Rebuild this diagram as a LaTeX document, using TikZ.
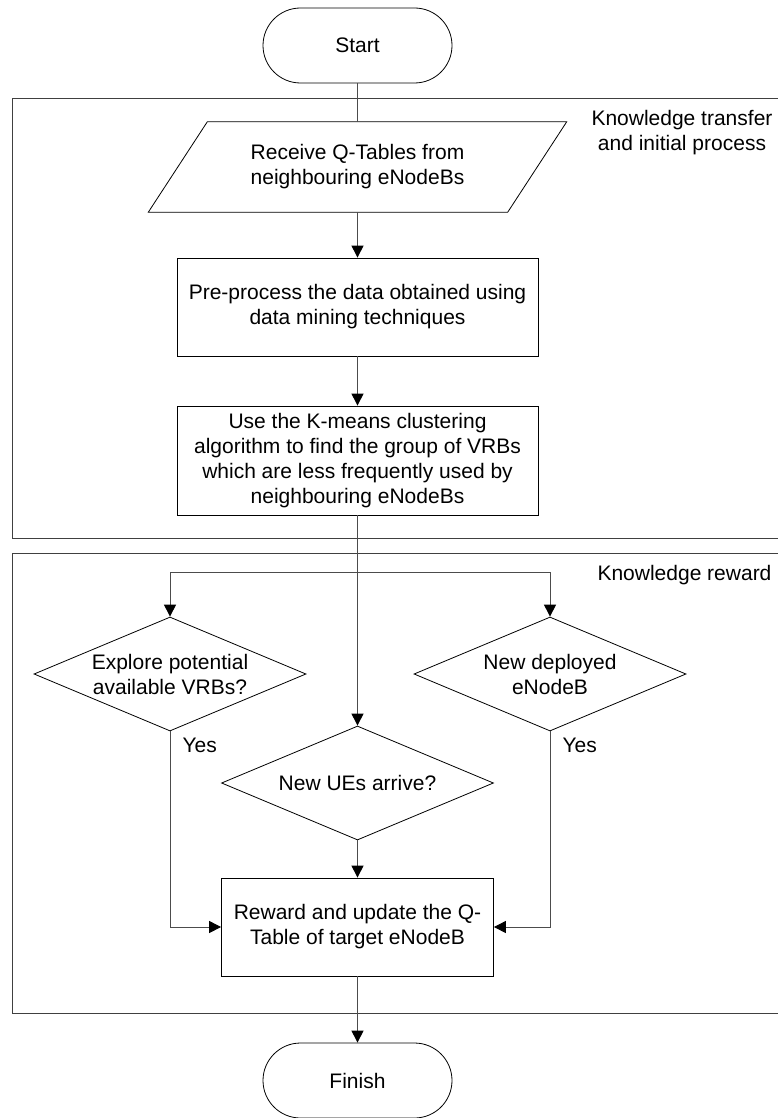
\documentclass[tikz,border=0pt]{standalone}
\usepackage{fontspec}
\setmainfont{Liberation Sans}
\usetikzlibrary{shapes.geometric,arrows.meta}

\begin{document}
\begin{tikzpicture}[x=1pt,y=-1pt,
	font=\fontsize{21}{25}\selectfont,
	line/.style={draw=black!70,line width=1pt},
	arr/.style={line,-{Triangle[length=12pt,width=12pt,color=black]}},
	frame/.style={draw=black!75,line width=1pt},
	terminal/.style={draw,line width=0.8pt,rounded corners=37.5pt,minimum width=189pt,minimum height=75pt},
	box/.style={draw,line width=0.8pt,align=center,inner sep=0pt},
	decision/.style={diamond,draw,line width=0.8pt,align=center,inner sep=0pt,shape aspect=2.4,minimum width=272pt,minimum height=114pt}]
				\useasboundingbox (0,0) rectangle (777,1118);
				\draw[frame] (12,99) rectangle (800,538);
				\draw[frame] (12,553) rectangle (800,1013);
				\node[align=center] (transfer) at (682,132.5) {Knowledge transfer\\and initial process};
				\node (rewardlbl) at (684.5,575) {Knowledge reward};
				\node[terminal] (start) at (357.5,45.5) {Start};
				\node[align=center,minimum width=359pt,minimum height=90pt] (recv) at (357.5,167) {Receive Q-Tables from\\neighbouring eNodeBs};
				\draw[line width=0.8pt] ([xshift=-29.5pt]recv.south west) -- ([xshift=29.5pt]recv.north west) -- ([xshift=29.5pt]recv.north east) -- ([xshift=-29.5pt]recv.south east) -- cycle;
				\node[box,minimum width=361pt,minimum height=98pt] (prep) at (357.5,307) {Pre-process the data obtained using\\data mining techniques};
				\node[box,minimum width=361pt,minimum height=109pt] (kmeans) at (357.5,460.5) {Use the K-means clustering\\algorithm to find the group of VRBs\\which are less frequently used by\\neighbouring eNodeBs};
				\node[decision] (explore) at (170,674) {Explore potential\\available VRBs?};
				\node[decision] (deploy) at (550,674) {New deployed\\eNodeB};
				\node[decision] (arrive) at (357.5,783) {New UEs arrive?};
				\node[box,minimum width=272pt,minimum height=98pt] (reward) at (357.5,927) {Reward and update the Q-\\Table of target eNodeB};
				\node[terminal] (finish) at (357.5,1080.5) {Finish};
				\node[anchor=west] (yesa) at ([xshift=9pt,yshift=-14pt]explore.south) {Yes};
				\node[anchor=west] (yesb) at ([xshift=9pt,yshift=-14pt]deploy.south) {Yes};
				\coordinate (split) at (357.5,572);
				\draw[line] (start) -- (recv);
				\draw[arr] (recv) -- (prep);
				\draw[arr] (prep) -- (kmeans);
				\draw[arr] (kmeans) -- (arrive);
				\draw[arr] (split) -| (explore.north);
				\draw[arr] (split) -| (deploy.north);
				\draw[arr] (explore.south) |- (reward.west);
				\draw[arr] (deploy.south) |- (reward.east);
				\draw[arr] (arrive) -- (reward);
				\draw[arr] (reward) -- (finish);
			\end{tikzpicture}
\end{document}
